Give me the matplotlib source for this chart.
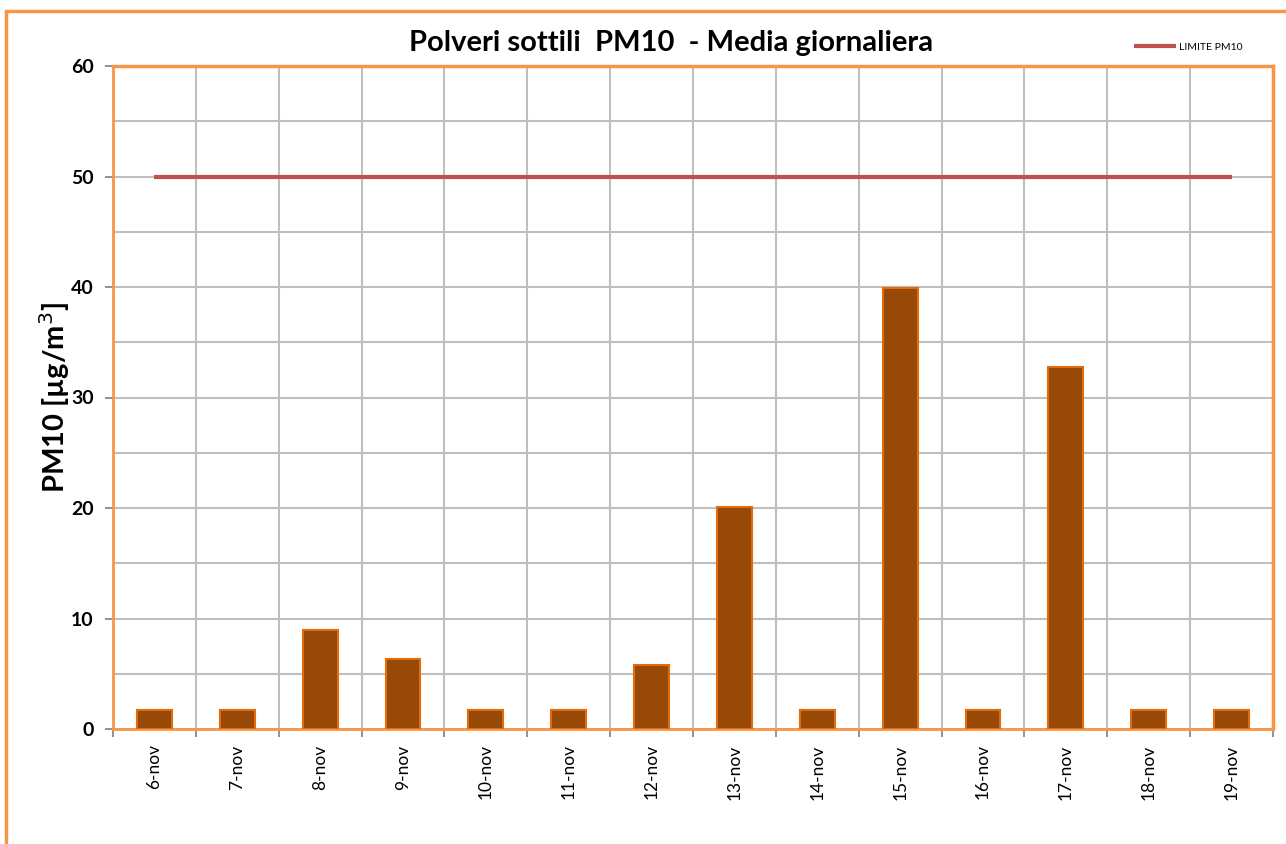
import matplotlib
matplotlib.use("Agg")
import matplotlib.pyplot as plt
from matplotlib.patches import Rectangle
from matplotlib.ticker import MultipleLocator, FixedLocator
import numpy as np

categories = ["6-nov", "7-nov", "8-nov", "9-nov", "10-nov", "11-nov", "12-nov",
              "13-nov", "14-nov", "15-nov", "16-nov", "17-nov", "18-nov", "19-nov"]
pm10_values = [1.7, 1.7, 9.0, 6.3, 1.7, 1.7, 5.8, 20.1, 1.7, 39.9, 1.7, 32.8, 1.7, 1.7]
limit_values = [50] * len(categories)
y_ticks = [0, 10, 20, 30, 40, 50, 60]

plt.rcParams['font.family'] = ['Lato', 'DejaVu Sans']

W, H = 1286, 844
fig = plt.figure(figsize=(W / 100, H / 100), dpi=100)

# outer orange frame
fig.patches.append(Rectangle((6 / W, -0.1), 1.2, 1 - 11 / H + 0.1, transform=fig.transFigure,
                             fill=False, edgecolor="#f79646", linewidth=2.5, zorder=0))

ax = fig.add_axes([113 / W, 1 - 729 / H, (1273 - 113) / W, (729 - 66) / H])
x = np.arange(len(categories))

ax.bar(x, pm10_values, width=0.42, color="#984807", edgecolor="#e46c0a", linewidth=1.5, zorder=3)
ax.plot(x, limit_values, color="#c0504d", linewidth=3.0, zorder=4, label="LIMITE PM10",
        solid_capstyle="butt")

ax.set_xlim(-0.5, len(categories) - 0.5)
ax.set_ylim(0, 60)

ax.set_xticks(x)
ax.set_xticklabels(categories, rotation=90, fontsize=12.5)
ax.xaxis.set_minor_locator(FixedLocator(np.arange(-0.5, len(categories), 1.0)))
ax.tick_params(axis='x', which='major', length=0, pad=11)
ax.tick_params(axis='x', which='minor', length=6, color="#808080", width=1.2, direction='out')

ax.set_yticks(y_ticks)
ax.set_yticklabels([str(v) for v in y_ticks], fontsize=14, fontweight='bold')
ax.yaxis.set_minor_locator(MultipleLocator(5))
ax.tick_params(axis='y', which='major', length=6, color="#808080", width=1.2, direction='out', pad=8)
ax.tick_params(axis='y', which='minor', length=0)

ax.grid(True, axis='y', which='both', color="#bfbfbf", linewidth=1.5, zorder=0)
ax.grid(True, axis='x', which='minor', color="#bfbfbf", linewidth=1.5, zorder=0)
ax.set_axisbelow(True)

for side, lw in [("left", 2.0), ("bottom", 2.0), ("top", 2.5), ("right", 2.5)]:
    ax.spines[side].set_color("#f79646")
    ax.spines[side].set_linewidth(lw)

ax.set_ylabel("PM10 [µg/m$^{3}$]", fontsize=21, fontweight='bold', va='center')
ax.yaxis.set_label_coords((55 - 113) / (1273 - 113), 0.5)

fig.text(0.5 * (408 + 935) / W, 1 - 43 / H, "Polveri sottili  PM10  - Media giornaliera",
         ha='center', va='center', fontsize=21, fontweight='bold')

leg = ax.legend(loc='center left', bbox_to_anchor=(1125 / W, 1 - 47 / H),
                bbox_transform=fig.transFigure, frameon=False, fontsize=7.5,
                handlelength=4.0, handletextpad=0.3)

fig.savefig("out.png", dpi=100)
